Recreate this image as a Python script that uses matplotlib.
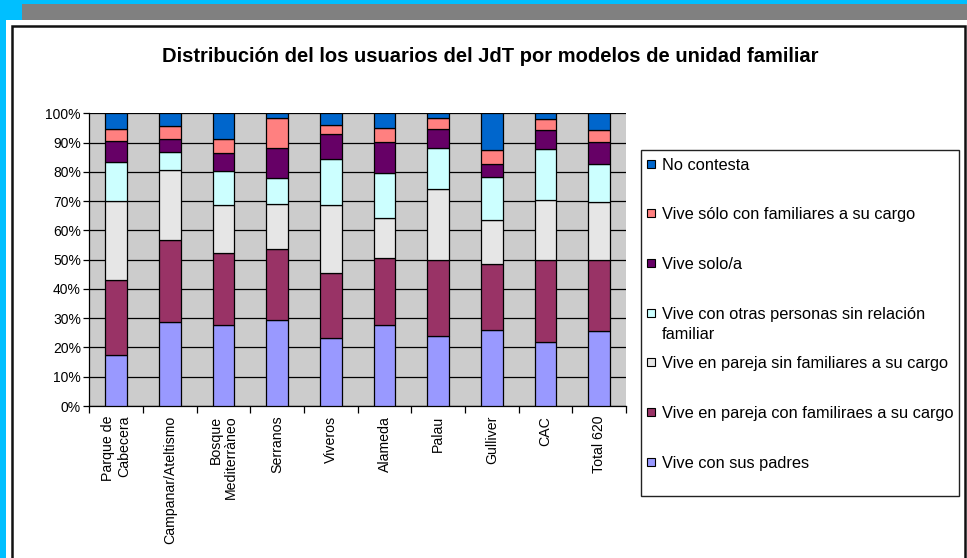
import matplotlib
matplotlib.use("Agg")
import matplotlib.pyplot as plt
from matplotlib.patches import Rectangle
import numpy as np

plt.rcParams['font.family'] = ['Liberation Sans', 'DejaVu Sans']

categories = ["Parque de\nCabecera", "Campanar/Ateltismo", "Bosque\nMediterràneo", "Serranos",
              "Viveros", "Alameda", "Palau", "Gulliver", "CAC", "Total 620"]

series_names = ["Vive con sus padres",
                "Vive en pareja con familiraes a su cargo",
                "Vive en pareja sin familiares a su cargo",
                "Vive con otras personas sin relación\nfamiliar",
                "Vive solo/a",
                "Vive sólo con familiares a su cargo",
                "No contesta"]

padres        = [17.4, 28.8, 27.6, 29.3, 23.3, 27.6, 23.9, 26.1, 22.0, 25.6]
pareja_con    = [25.6, 27.9, 24.6, 24.2, 22.0, 23.1, 26.0, 22.4, 27.9, 24.3]
pareja_sin    = [26.9, 23.8, 16.5, 15.6, 23.4, 13.4, 24.2, 15.1, 20.6, 19.7]
otras         = [13.4,  6.4, 11.7,  8.8, 15.6, 15.4, 14.2, 14.6, 17.3, 13.2]
solo          = [ 7.2,  4.2,  5.9, 10.4,  8.5, 10.8,  6.3,  4.5,  6.5,  7.4]
solo_familia  = [ 4.1,  4.6,  4.8, 10.0,  3.2,  4.8,  3.7,  4.7,  3.7,  4.1]
no_contesta   = [ 5.4,  4.3,  8.9,  1.7,  4.0,  4.9,  1.7, 12.6,  2.0,  5.7]

colors = ["#9999FF", "#993366", "#E6E6E6", "#CCFFFF", "#660066", "#FF8080", "#0066CC"]

W, H = 967, 558
fig = plt.figure(figsize=(W/100, H/100), dpi=100)
fig.patch.set_facecolor("white")

def frect(x0, y0, x1, y1, **kw):
    # pixel coords (top-left origin) -> figure fraction
    r = Rectangle((x0/W, 1 - y1/H), (x1-x0)/W, (y1-y0)/H, transform=fig.transFigure, **kw)
    fig.patches.append(r)
    return r

cyan = "#00BFFF"
frect(0, 0, W, 4, facecolor=cyan, edgecolor="none")
frect(0, 0, 6, H, facecolor=cyan, edgecolor="none")
frect(0, 0, 22, 20, facecolor=cyan, edgecolor="none")
frect(22, 4, W, 20, facecolor="#808080", edgecolor="none")
frect(11.5, 26, 964.5, H + 10, facecolor="none", edgecolor="#111111", linewidth=1.8)

left, right, top, bottom = 89.3, 626, 113.3, 406
ax = fig.add_axes([left/W, 1 - bottom/H, (right-left)/W, (bottom-top)/H])
ax.set_facecolor("#CCCCCC")

data = np.array([padres, pareja_con, pareja_sin, otras, solo, solo_familia, no_contesta])
totals = data.sum(axis=0)
pct = data / totals * 100
x = np.arange(len(categories))
base = np.zeros(len(categories))
handles = []
for i in range(len(series_names)):
    b = ax.bar(x, pct[i], bottom=base, width=0.40, color=colors[i], edgecolor="black",
               linewidth=0.9, zorder=3)
    handles.append(b)
    base += pct[i]

ax.set_xlim(-0.5, len(categories) - 0.5)
ax.set_ylim(0, 100)
ax.set_yticks(np.arange(0, 101, 10))
ax.set_yticklabels([f"{v}%" for v in range(0, 101, 10)], fontsize=10)
ax.yaxis.grid(True, color="black", linewidth=0.9, zorder=1)
ax.set_axisbelow(True)
for s in ["top", "right"]:
    ax.spines[s].set_visible(False)
ax.spines["left"].set_linewidth(0.9)
ax.spines["bottom"].set_linewidth(0.9)
ax.tick_params(axis="y", length=4, width=0.9, pad=2)

ax.set_xticks(x)
ax.set_xticklabels(categories, rotation=90, fontsize=10.2, ha="center", va="top",
                   multialignment="right", linespacing=1.15)
ax.tick_params(axis="x", which="major", length=0, pad=7)
ax.set_xticks(np.arange(-0.5, len(categories) + 0.5, 1), minor=True)
ax.tick_params(axis="x", which="minor", length=5, width=0.9)

fig.text(490/W, 1 - 57/H, "Distribución del los usuarios del JdT por modelos de unidad familiar",
         ha="center", va="center", fontsize=14.5, fontweight="bold")

# legend box
frect(641, 150, 959, 496, facecolor="white", edgecolor="#222222", linewidth=1.0)
legend_order = list(range(len(series_names)))[::-1]
ys = [164, 213, 263, 313, 362, 412, 462]
for yy, i in zip(ys, legend_order):
    frect(646.5, yy - 4.5, 655, yy + 4, facecolor=colors[i], edgecolor="black", linewidth=0.8)
    fig.text(661.5/W, 1 - (yy - 6)/H, series_names[i], ha="left", va="top",
             fontsize=11.8, linespacing=1.4)

fig.savefig("out.png", dpi=100)
